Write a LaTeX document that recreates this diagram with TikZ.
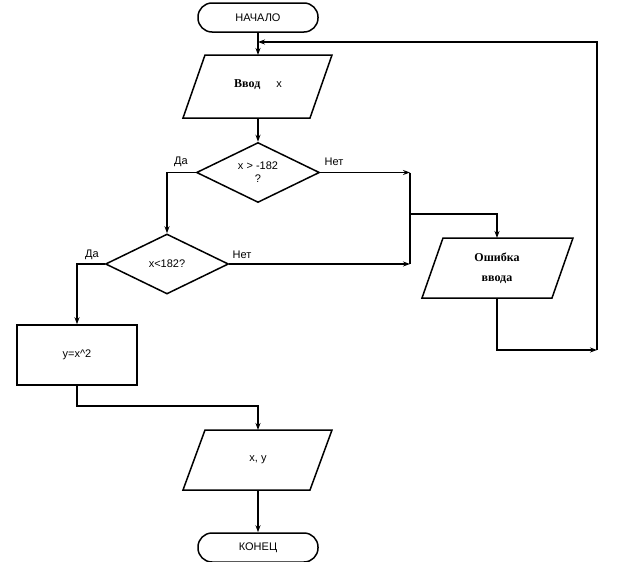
\documentclass[tikz,border=0pt]{standalone}
\usepackage{fontspec}
\setmainfont{Liberation Sans}
\newfontfamily\serifb{Liberation Serif}
\usetikzlibrary{arrows.meta,shapes.geometric}
\begin{document}
\begin{tikzpicture}[x=1pt,y=-1pt,line width=1.5pt,
  arr/.style={-{Stealth[length=7pt,width=5pt]}},
  term/.style={draw,rounded corners=14pt,minimum width=120pt,minimum height=29pt,inner sep=0pt,font=\fontsize{11}{13}\selectfont},
  dia/.style={draw,diamond,aspect=2.05,minimum width=123pt,minimum height=60pt,inner sep=0pt,font=\fontsize{11}{13}\selectfont},
  box/.style={draw,minimum width=120pt,minimum height=60pt,inner sep=0pt,font=\fontsize{11}{13}\selectfont},
  lbl/.style={font=\fontsize{11}{13}\selectfont,inner sep=1pt},
  par/.style={draw,line join=miter}]
\useasboundingbox (0,0) rectangle (625,562);
\node[term] (start) at (258,17.5) {НАЧАЛО};
\node[term] (end) at (258,547.5) {КОНЕЦ};
% input
\draw[par] (205,55) -- (332,55) -- (310,118) -- (183,118) -- cycle;
\coordinate (inT) at (258,55); \coordinate (inB) at (258,118);
\node[lbl] (intext) at (258,85) {{\serifb\bfseries\fontsize{12}{14}\selectfont Ввод}\hspace{16pt}x};
\node[dia] (d1) at (258,172.5) {};
\node[lbl,align=center] at (258,172) {x \textgreater{} -182\\?};
\node[dia] (d2) at (167,264) {};
\node[lbl] at (167,264) {x\textless182?};
\node[box] (sq) at (77,355) {y=x\textasciicircum2};
% error
\draw[par] (443,238) -- (573,238) -- (552,298) -- (422,298) -- cycle;
\coordinate (erT) at (497,238); \coordinate (erB) at (497,298);
\node[lbl,align=center,font=\serifb\bfseries\fontsize{12}{20}\selectfont] (ertext) at (497,268) {Ошибка\\ввода};
% output
\draw[par] (205,430) -- (332,430) -- (310,490) -- (183,490) -- cycle;
\coordinate (ouT) at (258,430); \coordinate (ouB) at (258,490);
\node[lbl] (outtext) at (258,460) {x, y};
% labels
\node[lbl] at (181,162) {Да};
\node[lbl] at (334,162) {Нет};
\node[lbl] at (92,255) {Да};
\node[lbl] at (242,255) {Нет};
% coordinates
\coordinate (j1) at (410,172.5);
\coordinate (j2) at (410,264);
\coordinate (j3) at (410,214);
\coordinate (loopE) at (597,350);
\coordinate (loopT) at (597,42);
\coordinate (loopIn) at (258,42);
% connectors
\draw[arr] (start.south) -- (inT);
\draw[arr] (inB) -- (d1.north);
\draw[arr] (d1.west) -| (d2.north);
\draw[arr] (d1.east) -- (j1);
\draw (j1) -- (j2);
\draw[arr] (d2.east) -- (j2);
\draw[arr] (j3) -| (erT);
\draw[arr] (d2.west) -| (sq.north);
\draw[arr] (erB) |- (loopE);
\draw[arr] (loopE) -- (loopT) -- (loopIn);
\draw[arr] (sq.south) -- ++(0,20) -| (ouT);
\draw[arr] (ouB) -- (end.north);
\end{tikzpicture}
\end{document}
